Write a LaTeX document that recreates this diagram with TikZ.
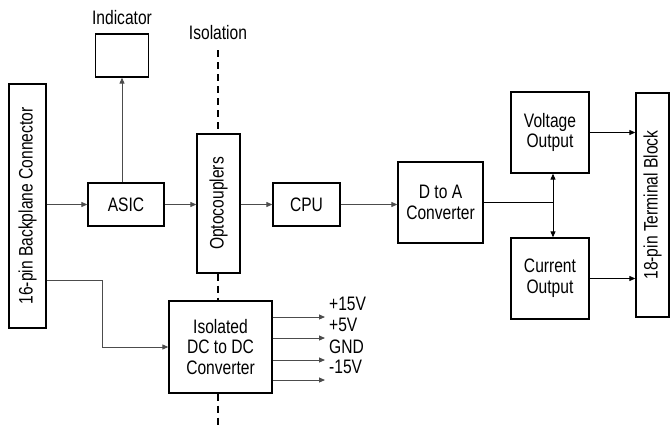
\documentclass[tikz,border=0pt]{standalone}
\usepackage{fontspec}
\setmainfont{Liberation Sans}[FakeStretch=0.8]
\usetikzlibrary{arrows.meta, positioning}

\begin{document}
\begin{tikzpicture}[
    x=1pt, y=-1pt,
    >={Triangle[length=6pt, width=5pt]},
    base/.style={draw, line width=1.3pt, align=center, inner sep=2pt, font=\fontsize{19.5}{20.7}\selectfont},
    a/.style={->, line width=0.9pt, draw=black!70},
    lbl/.style={font=\fontsize{19.5}{20.7}\selectfont, inner sep=0pt},
    iso/.style={line width=1.3pt, dash pattern=on 7pt off 5pt}
  ]
  \useasboundingbox (0,0) rectangle (672,426);

  % ---- left side: backplane, ASIC, indicator ----
  \node[base, minimum width=37pt, minimum height=244pt,
        label={[lbl, rotate=90]center:16-pin Backplane Connector}] (bp) at (27.5,206) {};
  \node[base, minimum width=76pt, minimum height=43pt] (asic) at (126,204.5) {ASIC};
  \node[base, minimum width=53pt, minimum height=43pt] (ind) at (122,55.5) {};
  \node[lbl] (indlbl) at (122,18) {Indicator};

  \draw[a] (bp.east |- asic.west) -- (asic.west);
  \draw[a] (asic.north -| ind.south) -- (ind.south);

  % ---- isolation barrier ----
  \node[base, minimum width=43pt, minimum height=139pt,
        label={[lbl, rotate=90]center:Optocouplers}] (opto) at (218.5,203.5) {};
  \node[base, minimum width=103pt, minimum height=92pt] (dcdc) at (220.5,347)
    {Isolated\\DC to DC\\Converter};
  \node[lbl] (isolbl) at (218,33) {Isolation};
  \coordinate (isotop) at (218,50);
  \coordinate (isobot) at (218,426);

  \draw[iso] (isotop) -- (isotop |- opto.north);
  \draw[iso] (opto.south -| isotop) -- (isotop |- dcdc.north);
  \draw[iso] (dcdc.south -| isotop) -- (isobot);

  \draw[a] (asic.east) -- (asic.east -| opto.west);
  \draw[a] ([yshift=-74pt]bp.east) -- ++(56,0) |- (dcdc.west);

  % supply rails
  \foreach \yy/\rail [count=\i] in {317/+15V, 338/+5V, 360/GND, 380/-15V} {
    \coordinate (rail\i) at (325,\yy);
    \node[lbl, anchor=west] (raillbl\i) at (329,\yy-13) {\rail};
    \draw[a] (dcdc.east |- rail\i) -- (rail\i);
  }

  % ---- right side: CPU, D/A, outputs ----
  \node[base, minimum width=67pt, minimum height=43pt] (cpu) at (306.5,204.5) {CPU};
  \node[base, minimum width=85pt, minimum height=81pt] (dac) at (440.5,202.5) {D to A\\Converter};
  \node[base, minimum width=78pt, minimum height=81pt] (vout) at (550,132.5) {Voltage\\Output};
  \node[base, minimum width=78pt, minimum height=81pt] (iout) at (550,278.5) {Current\\Output};
  \node[base, minimum width=33pt, minimum height=224pt,
        label={[lbl, rotate=90]center:18-pin Terminal Block}] (tb) at (652.5,205) {};
  \coordinate (jn) at (553,202.5);

  \draw[a] (opto.east |- cpu.west) -- (cpu.west);
  \draw[a] (cpu.east) -- (cpu.east -| dac.west);
  \draw[line width=1.5pt] (dac.east) -- (jn);
  \draw[a, draw=black] (jn) -- (jn |- vout.south);
  \draw[a, draw=black] (jn) -- (jn |- iout.north);
  \draw[a, draw=black] (vout.east) -- (vout.east -| tb.west);
  \draw[a, draw=black] (iout.east) -- (iout.east -| tb.west);

\end{tikzpicture}
\end{document}
